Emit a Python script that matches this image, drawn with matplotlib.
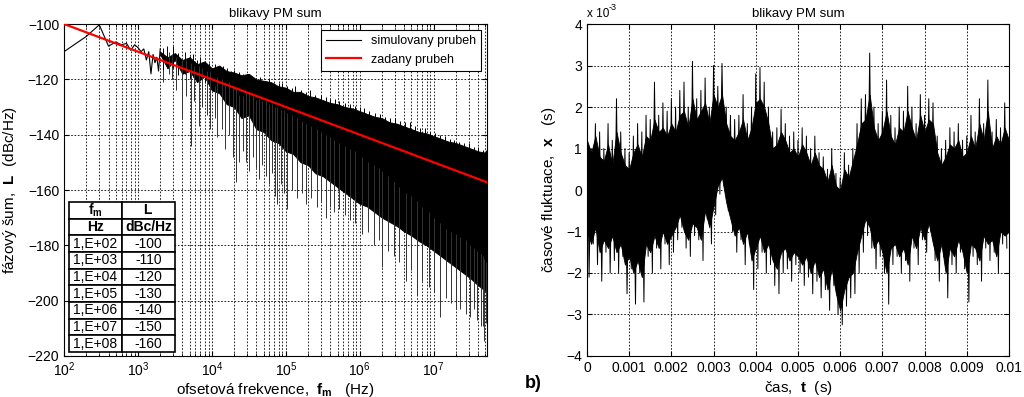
import numpy as np
import matplotlib
matplotlib.use("Agg")
import matplotlib.pyplot as plt

plt.rcParams.update({
    "font.family": "Liberation Sans",
    "font.size": 10,
    "mathtext.fontset": "custom",
    "mathtext.rm": "Liberation Sans",
    "mathtext.bf": "Liberation Sans:bold",
    "mathtext.it": "Liberation Sans:italic",
})

# --- left panel: phase noise spectrum ---
# specified curve (table values)
tab_f = [1e2, 1e3, 1e4, 1e5, 1e6, 1e7, 1e8]
tab_L = [-100, -110, -120, -130, -140, -150, -160]

# first FFT bins, read individually
f_low = [100, 200, 300, 400, 500, 600, 700, 800, 900, 1000,
         1100, 1200, 1300, 1400, 1500, 1600, 1700, 1800, 1900, 2000]
L_low = [-110, -104.5, -100.3, -108, -106.5, -107.5, -107, -109.5, -107.5, -108.5,
         -110, -109, -113, -110, -118, -111, -114, -112, -117, -109]

# envelope of the dense part, read every 0.1 decade from 10^3.3 up to Nyquist
f_mass = np.append(10 ** (np.arange(33, 78) / 10), 5.24e7)
L_top = [-110, -112, -110.5, -113, -112, -114.5, -113.5, -116, -115, -117,
         -117.5, -118.5, -118, -120, -120.5, -121, -122.5, -123, -124.5, -124.5,
         -126, -126.5, -127.5, -128.5, -129, -130, -130.5, -131.5, -132.5, -133.5,
         -134, -135.5, -136, -137, -138, -139, -139.5, -140.5, -141.5, -142.5,
         -143, -144, -145, -146, -146.5, -147]
L_bot = [-111, -116, -113, -118, -117, -121, -119, -124, -125, -129,
         -130, -134, -133, -138, -139, -142, -143, -146, -147, -150,
         -151, -154, -155, -157, -159, -161, -163, -165, -166, -168,
         -170, -171.5, -173, -175, -176.5, -178.5, -180, -182, -184, -186,
         -188, -190, -192, -194.5, -196.5, -197]

# downward spikes below the dense part (frequency, top, bottom)
spk_f = [2200, 2600, 2900, 3300, 3900, 4400, 5200, 5800, 6600, 7400, 8500, 9500,
         1.1e4, 1.17e4, 1.35e4, 1.5e4, 1.7e4, 1.9e4, 2.1e4, 2.3e4, 2.6e4, 2.9e4,
         3.2e4, 3.6e4, 3.9e4, 4.3e4, 4.8e4, 5.4e4, 6e4, 6.6e4, 7.2e4, 7.6e4,
         8.5e4, 9.4e4, 1.05e5, 1.2e5, 1.4e5, 1.65e5, 1.9e5, 2.2e5, 2.6e5, 3e5,
         3.5e5, 4e5, 4.5e5, 5.2e5, 6.3e5, 7.3e5, 8.6e5, 1.07e6, 1.3e6, 1.55e6,
         1.8e6, 2e6, 2.4e6, 2.9e6, 3.4e6, 4.2e6, 5e6, 6e6, 7e6, 8.5e6, 1e7,
         1.23e7, 1.45e7, 1.7e7, 2e7, 2.3e7, 2.7e7, 3.1e7, 3.5e7, 3.9e7, 4.3e7,
         4.6e7, 4.8e7, 5.1e7]
spk_top = [-110, -110, -111, -112, -113, -113, -114, -115, -115, -116, -117, -117,
           -119, -119, -120, -121, -121, -122, -123, -123, -124, -125,
           -125, -126, -127, -127, -128, -128, -129, -129, -130, -130,
           -131, -131, -132, -133, -134, -135, -136, -137, -138, -139,
           -140, -141, -142, -143, -144, -145, -146, -148, -150, -151,
           -152, -153, -155, -157, -159, -161, -162, -164, -166, -168, -170,
           -172, -174, -175, -176, -177, -178, -180, -181, -182, -183,
           -184, -185, -186]
spk_bot = [-121, -118, -120, -124, -134, -126, -144, -128, -137, -130, -133, -138,
           -134, -141, -138, -145, -140, -148, -157, -150, -146, -150,
           -153, -148, -152, -156, -151, -155, -158, -154, -162, -165,
           -158, -161, -167, -160, -163, -161, -165, -163, -166, -164,
           -170, -166, -168, -167, -169, -171, -172, -176, -175, -180,
           -178, -187.7, -182, -184, -186, -193, -189, -198, -193, -195, -197,
           -206, -199, -201, -203, -203, -205, -206, -203, -207, -209,
           -209, -214.5, -208]

# small upward spikes on the upper edge
up_f = [2200, 2500, 3000, 3500, 4300, 5000, 5500, 6300, 7000, 8000, 9000,
        1.1e4, 1.25e4, 1.4e4, 1.6e4, 1.8e4, 2e4, 2.3e4, 2.6e4, 3e4, 3.4e4, 3.9e4,
        4.5e4, 5.2e4, 6e4, 7e4, 8e4, 9e4, 1.05e5, 1.2e5, 1.35e5, 1.6e5, 1.85e5,
        2.1e5, 2.5e5, 3e5, 3.5e5, 4e5, 4.6e5, 5.3e5, 6.3e5, 7.3e5, 8.5e5, 1e6,
        1.15e6, 1.35e6, 1.6e6, 1.9e6, 2.2e6, 2.6e6, 3e6, 3.5e6, 4.1e6, 4.8e6,
        5.6e6, 6.5e6, 7.6e6, 8.8e6, 1.03e7, 1.2e7, 1.4e7, 1.65e7, 1.9e7, 2.2e7,
        2.6e7, 3e7, 3.5e7, 4e7, 4.6e7, 5.1e7]
up_L = [-108.5, -108, -108, -110.5, -110, -111.5, -111, -113, -112, -113.5, -114,
        -114.5, -115.5, -115, -116, -117, -116.5, -117.5, -118, -118, -119, -119.5,
        -119, -120.5, -120, -121.5, -121.5, -121.5, -122.5, -123, -122.5, -124, -124.5,
        -124, -125.5, -125.5, -126.5, -127, -127, -128, -128.5, -129, -129.5, -130,
        -130.5, -131.5, -132, -132.5, -133.5, -134, -134, -135, -135.5, -135.5,
        -137, -137.5, -137.5, -139, -139.5, -140, -140.5, -141.5, -142, -142.5,
        -143, -143, -144.5, -144.5, -145.5, -145.5]

# --- right panel: time fluctuation (units of 1e-3 s) ---
t_env = np.arange(0, 10.01, 0.1)
x_hi = [1.2, 0.9, 1.3, 0.8, 0.7, 1.1, 0.6, 1.4, 0.9, 0.6,
        0.5, 0.9, 1.1, 0.8, 1.3, 1.2, 1.7, 1.4, 1.5, 1.3,
        1.6, 1.4, 1.8, 1.9, 1.5, 2.2, 1.7, 1.9, 2.1, 1.6,
        2.3, 2.0, 2.3, 1.6, 1.3, 1.2, 1.4, 1.7, 1.2, 1.5,
        2.1, 2.2, 2.0, 1.6, 1.0, 1.1, 1.4, 1.2, 0.9, 1.0,
        0.8, 1.1, 0.9, 0.6, 0.9, 0.6, 0.5, 0.2, 0.6, 0.1,
        0.0, 0.5, 0.3, 0.7, 1.1, 1.6, 1.7, 2.3, 1.5, 1.2,
        1.4, 1.9, 1.3, 1.1, 1.5, 1.4, 1.9, 1.5, 1.2, 1.8,
        1.4, 1.7, 1.6, 0.9, 0.6, 0.8, 1.1, 1.0, 1.2, 0.8,
        0.9, 1.3, 1.0, 1.6, 1.2, 1.9, 1.0, 1.3, 1.1, 1.5,
        1.2]
x_lo = [-1.0, -1.3, -0.9, -1.5, -1.2, -1.4, -1.1, -1.5, -1.3, -1.8,
        -1.6, -2.0, -1.7, -2.1, -1.3, -1.5, -1.1, -1.4, -1.0, -1.3,
        -1.1, -0.9, -0.6, -1.0, -1.2, -0.8, -0.9, -1.2, -0.5, -0.9,
        -0.4, 0.1, 0.3, -0.3, -0.7, -1.1, -0.9, -1.3, -1.0, -1.7,
        -1.4, -1.1, -1.5, -1.3, -1.7, -1.9, -1.5, -1.4, -1.7, -1.5,
        -1.6, -1.8, -1.6, -2.0, -1.7, -2.1, -1.9, -2.4, -1.9, -2.5,
        -2.9, -2.4, -2.1, -2.0, -1.5, -1.1, -0.7, -0.9, -1.4, -1.2,
        -1.5, -2.0, -1.4, -1.3, -1.6, -1.4, -1.8, -1.1, -1.4, -0.9,
        -1.2, -0.8, -1.3, -1.7, -1.3, -2.0, -1.4, -1.6, -1.2, -1.5,
        -2.0, -1.3, -1.4, -1.7, -1.1, -1.3, -1.2, -1.6, -1.0, -1.1,
        -1.0]

x_up = [2.3, 1.0, 1.6, 1.4, 1.0, 1.6, 1.2, 2.2, 1.4, 1.0,
        0.9, 1.3, 1.6, 1.4, 1.8, 1.7, 2.6, 1.8, 2.1, 1.9,
        2.2, 2.0, 2.4, 2.6, 2.0, 3.1, 2.2, 2.4, 2.7, 2.0,
        3.0, 2.5, 3.05, 2.0, 1.8, 1.7, 1.8, 2.3, 1.6, 2.0,
        2.8, 2.95, 2.6, 2.0, 1.4, 1.5, 1.95, 1.6, 1.3, 1.4,
        1.2, 1.5, 1.3, 1.0, 1.3, 0.9, 0.8, 0.5, 1.0, 0.4,
        0.3, 0.9, 0.6, 1.0, 1.6, 2.2, 2.3, 3.3, 2.0, 1.6,
        1.9, 2.65, 1.8, 1.5, 2.0, 1.9, 2.5, 2.0, 1.6, 2.3,
        1.8, 2.2, 2.1, 1.3, 1.0, 1.2, 1.5, 1.4, 1.6, 1.2,
        1.3, 1.8, 1.4, 2.2, 1.6, 2.65, 1.4, 1.7, 1.5, 2.1]
x_dn = [-2.1, -1.3, -1.8, -2.2, -1.5, -2.0, -1.7, -2.0, -1.6, -2.5,
        -1.9, -2.75, -2.0, -2.7, -1.6, -2.0, -1.4, -1.9, -1.3, -1.8,
        -1.5, -1.2, -0.9, -1.4, -1.6, -1.1, -1.2, -1.7, -0.7, -1.3,
        -0.6, -0.1, 0.1, -0.5, -1.0, -1.5, -1.2, -1.8, -1.3, -2.4,
        -1.9, -1.5, -2.0, -1.8, -2.3, -2.5, -2.0, -1.9, -2.2, -1.8,
        -2.0, -2.3, -2.1, -2.5, -2.2, -2.6, -2.4, -2.9, -2.3, -3.0,
        -3.25, -2.8, -2.6, -2.5, -2.0, -1.5, -1.1, -1.4, -1.9, -1.6,
        -2.0, -2.75, -1.8, -1.6, -2.0, -1.7, -2.2, -1.4, -1.8, -1.2,
        -1.5, -1.0, -1.7, -2.2, -1.6, -2.6, -1.8, -2.0, -1.5, -1.9,
        -2.7, -1.6, -1.8, -2.2, -1.4, -1.7, -1.5, -2.0, -1.3, -1.4]

grid_kw = dict(color="k", lw=0.6, ls=(0, (2, 2)))

fig = plt.figure(figsize=(10.24, 3.97), dpi=100)
ax1 = fig.add_axes([0.0625, 0.1033, 0.413, 0.8362])
ax2 = fig.add_axes([0.5732, 0.1033, 0.4121, 0.8362])

# left
ax1.set_xscale("log")
ax1.fill_between(f_mass, L_bot, L_top, color="k", lw=0.6, edgecolor="k", zorder=2)
ax1.vlines(spk_f, spk_bot, spk_top, color="#333333", lw=0.7, zorder=2)
ax1.vlines(up_f, np.array(up_L) - 8, up_L, color="k", lw=0.7, zorder=2)
ax1.plot(f_low, L_low, color="k", lw=0.8, zorder=2, label="simulovany prubeh")
ax1.plot(tab_f, tab_L, color="#ff0000", lw=1.6, zorder=3, label="zadany prubeh")
ax1.set_xlim(1e2, 5.24e7)
ax1.set_ylim(-220, -100)
ax1.set_yticks(np.arange(-220, -99, 20))
ax1.grid(True, which="major", **grid_kw)
ax1.grid(True, which="minor", axis="x", **grid_kw)
ax1.set_axisbelow(True)
ax1.tick_params(which="both", direction="in", top=True, right=True, labelsize=10)
ax1.set_title("blikavy PM sum", fontsize=9.5, pad=5)
ax1.set_xlabel(r"ofsetová frekvence,  $\mathbf{f_m}$   (Hz)", fontsize=11, labelpad=1)
ax1.set_ylabel(r"fázový šum,  $\mathbf{L}$  (dBc/Hz)", fontsize=11, labelpad=6)
leg = ax1.legend(loc="upper right", fontsize=9, fancybox=False, framealpha=1,
                 edgecolor="k", handlelength=2.8, borderaxespad=0.5)
leg.get_frame().set_linewidth(0.8)
leg.set_zorder(6)

cells = [[r"$\mathbf{f_m}$", r"$\mathbf{L}$"], ["Hz", "dBc/Hz"]]
cells += [["1,E+%02d" % int(round(np.log10(f))), str(v)] for f, v in zip(tab_f, tab_L)]
tab = ax1.table(cellText=cells, cellLoc="center", bbox=[0.012, 0.012, 0.25, 0.452])
tab.auto_set_font_size(False)
tab.set_fontsize(10)
tab.set_zorder(5)
for (r, c), cell in tab.get_celld().items():
    cell.set_linewidth(1.2)
    cell.set_facecolor("white")
    if r < 2:
        cell.get_text().set_fontweight("bold")

# right
t_sp = np.empty(200)
x_sp = np.empty(200)
t_sp[0::2] = np.arange(0, 10, 0.1)
t_sp[1::2] = np.arange(0.05, 10, 0.1)
x_sp[0::2] = x_up
x_sp[1::2] = x_dn
ax2.fill_between(t_env, x_lo, x_hi, color="k", lw=0.6, edgecolor="k", zorder=2)
ax2.plot(t_sp, x_sp, color="k", lw=0.7, zorder=2)
ax2.set_xlim(0, 10)
ax2.set_ylim(-4, 4)
ax2.set_xticks(np.arange(0, 10.01, 1))
ax2.set_xticklabels(["0"] + ["%.3f" % (v / 1000) for v in range(1, 10)] + ["0.01"])
ax2.set_yticks(np.arange(-4, 4.01, 1))
ax2.grid(True, **grid_kw)
ax2.set_axisbelow(True)
ax2.tick_params(direction="in", top=True, right=True, labelsize=10)
ax2.set_title("blikavy PM sum", fontsize=9.5, pad=5)
ax2.set_xlabel(r"čas,  $\mathbf{t}$  (s)", fontsize=11, labelpad=3)
ax2.set_ylabel(r"časové fluktuace,  $\mathbf{x}$   (s)", fontsize=11, labelpad=6)
ax2.text(0.0, 1.012, "x 10", transform=ax2.transAxes, fontsize=8.5,
         ha="left", va="bottom")
ax2.text(0.052, 1.035, "-3", transform=ax2.transAxes, fontsize=6.5,
         ha="left", va="bottom")

fig.text(0.513, 0.035, "b)", fontsize=13, fontweight="bold", ha="left", va="center")

fig.savefig("out.png", dpi=100)
